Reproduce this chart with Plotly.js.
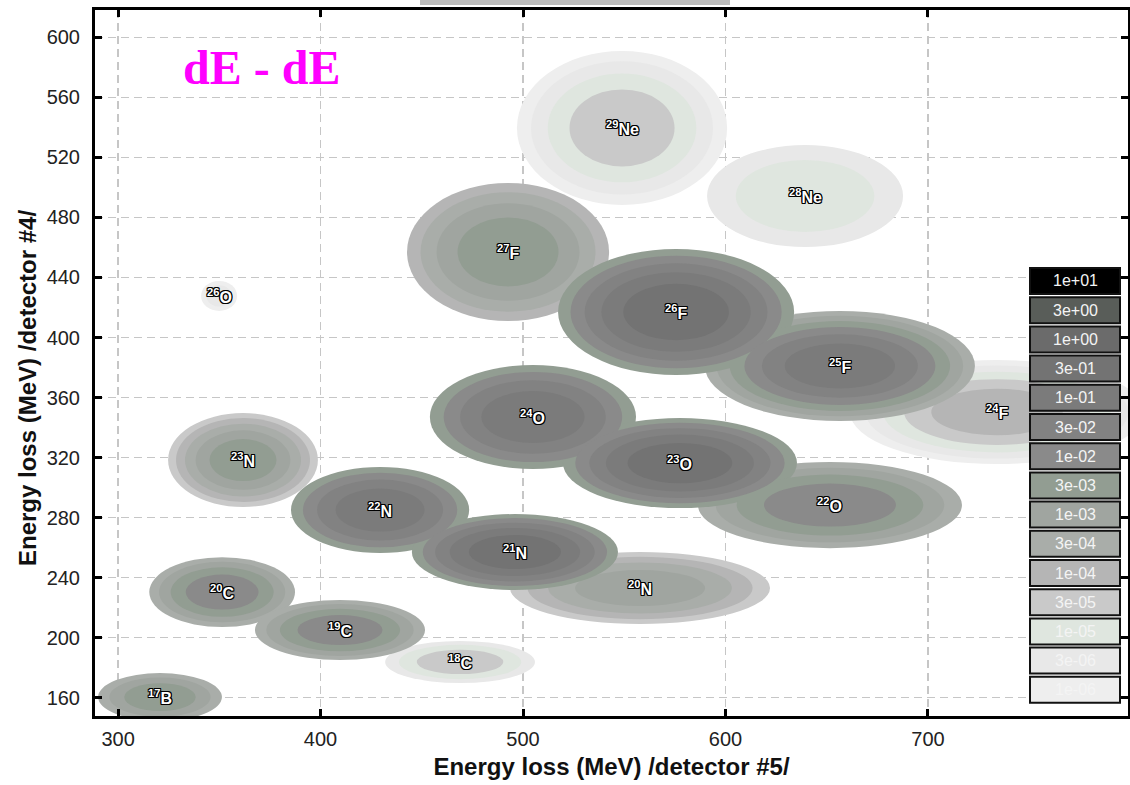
<!DOCTYPE html>
<html>
<head>
<meta charset="utf-8">
<script src="https://cdn.plot.ly/plotly-3.0.1.min.js"></script>
<style>
  html, body { margin: 0; padding: 0; background: #ffffff; }
  #chart { width: 1130px; height: 785px; }
</style>
</head>
<body>
<div id="chart"></div>
<script>
// Isotope groups in the dE - dE identification plane
const isotopeMass    = [29, 28, 27, 26, 25, 24, 26, 24, 23, 22, 23, 22, 21, 20, 20, 19, 18, 17];
const isotopeElement = ['Ne','Ne','F','F','F','F','O','O','O','O','N','N','N','N','C','C','C','B'];
// centroid energy loss, MeV
const dE5 = [548.9, 639.3, 492.6, 575.6, 656.5, 734.1, 349.9, 504.9, 577.5, 651.6, 361.7, 429.4, 496.0, 557.8, 351.4, 409.6, 468.9, 320.7];
const dE4 = [539.7, 494.3, 457.0, 417.0, 381.0, 350.3, 427.7, 347.0, 316.3, 288.3, 318.3, 285.0, 257.0, 233.0, 230.3, 205.0, 183.7, 160.3];
// half-widths of the outermost contour, MeV
const spread5 = [51.9, 48.4, 49.9, 58.3, 66.7, 72.6, 8.9, 50.9, 57.8, 65.2, 37.0, 44.0, 50.9, 64.2, 36.0, 42.0, 37.0, 30.6];
const spread4 = [51.3, 34.0, 46.0, 42.0, 36.7, 34.7, 10.0, 34.7, 30.0, 28.7, 31.3, 28.7, 25.3, 24.0, 23.3, 20.0, 14.0, 16.0];
// lowest and highest contour level reached (index into levelLabels)
const floorLevel = [0, 1, 4, 7, 5, 0, 0, 7, 7, 5, 3, 7, 7, 3, 5, 5, 1, 5];
const peakLevel  = [3, 2, 7, 11, 10, 4, 1, 10, 11, 8, 7, 10, 11, 6, 8, 8, 3, 7];

// contour levels (yield scale), lowest first
const levelLabels = ['1e-06','3e-06','1e-05','3e-05','1e-04','3e-04','1e-03','3e-03',
                     '1e-02','3e-02','1e-01','3e-01','1e+00','3e+00','1e+01'];
const xTicks = [300, 400, 500, 600, 700];
const yTicks = [160, 200, 240, 280, 320, 360, 400, 440, 480, 520, 560, 600];

// palette for the contour levels
const levelColors = ['#eeeeee','#e8e8e8','#dfe6df','#c9c9c9','#b5b5b5','#a9ada9','#a0a5a0','#929d92',
                     '#8a8a8a','#828282','#7b7b7b','#737373','#6b6b6b','#595d59','#000000'];

const xRange = [288.6, 798.8];
const yRange = [147.7, 618.3];

// plot frame in pixels, used to place the level key
const W = 1130, H = 785;
const M = { l: 95, r: 2, t: 10, b: 69 };
const plotW = W - M.l - M.r, plotH = H - M.t - M.b;
const px2paperX = px => (px - M.l) / plotW;
const px2paperY = py => (H - M.b - py) / plotH;

// concentric contour rings for every isotope; drawn by level so the higher level wins
const rings = [];
for (let i = 0; i < dE5.length; i++) {
  const n = peakLevel[i] - floorLevel[i] + 1;
  for (let k = 0; k < n; k++) {
    const f = Math.sqrt((n - k) / n);
    rings.push({
      lvl: floorLevel[i] + k,
      x0: dE5[i] - spread5[i] * f, x1: dE5[i] + spread5[i] * f,
      y0: dE4[i] - spread4[i] * f, y1: dE4[i] + spread4[i] * f
    });
  }
}
rings.sort((a, b) => a.lvl - b.lvl);

const shapes = rings.map(r => ({
  type: 'circle', xref: 'x', yref: 'y', layer: 'between',
  x0: r.x0, x1: r.x1, y0: r.y0, y1: r.y1,
  fillcolor: levelColors[r.lvl], line: { width: 0 }
}));

const annotations = [];

// level key (highest level at the top)
const keyLeft = 1030, keyRight = 1120, keyTop = 268, keyStep = 29.2, keyH = 26;
for (let j = 0; j < levelLabels.length; j++) {
  const lvl = levelLabels.length - 1 - j;
  const top = keyTop + j * keyStep;
  shapes.push({
    type: 'rect', xref: 'paper', yref: 'paper', layer: 'above',
    x0: px2paperX(keyLeft), x1: px2paperX(keyRight),
    y0: px2paperY(top + keyH), y1: px2paperY(top),
    fillcolor: levelColors[lvl], line: { color: '#111111', width: 2 }
  });
  annotations.push({
    xref: 'paper', yref: 'paper', showarrow: false,
    x: px2paperX((keyLeft + keyRight) / 2), y: px2paperY(top + keyH / 2),
    xanchor: 'center', yanchor: 'middle',
    text: levelLabels[lvl],
    font: { family: 'Liberation Sans, Arial, sans-serif', size: 16, color: '#f4f4f4' }
  });
}

// grey bar above the frame
shapes.push({
  type: 'rect', xref: 'paper', yref: 'paper', layer: 'above',
  x0: px2paperX(420), x1: px2paperX(730), y0: px2paperY(5), y1: px2paperY(0),
  fillcolor: '#bdbdbd', line: { width: 0 }
});

// isotope names
for (let i = 0; i < dE5.length; i++) {
  annotations.push({
    xref: 'x', yref: 'y', x: dE5[i], y: dE4[i], showarrow: false,
    xanchor: 'center', yanchor: 'middle',
    text: '<sup>' + isotopeMass[i] + '</sup>' + isotopeElement[i],
    font: {
      family: 'Liberation Sans, Arial, sans-serif', size: 16, color: '#ffffff', weight: 'bold',
      shadow: '1px 0 0 #000, -1px 0 0 #000, 0 1px 0 #000, 0 -1px 0 #000, 1px 1px 0 #000, -1px -1px 0 #000, 1px -1px 0 #000, -1px 1px 0 #000'
    }
  });
}

// plot label
annotations.push({
  xref: 'paper', yref: 'paper', x: px2paperX(261), y: px2paperY(67),
  xanchor: 'center', yanchor: 'middle', showarrow: false,
  text: '<b>dE - dE</b>',
  font: { family: 'Liberation Serif, Times New Roman, serif', size: 48, color: '#ff00ff' }
});

// vertical axis title
annotations.push({
  xref: 'paper', yref: 'paper', x: px2paperX(27), y: px2paperY(388),
  xanchor: 'center', yanchor: 'middle', showarrow: false, textangle: -90,
  text: '<b>Energy loss (MeV) /detector #4/</b>',
  font: { family: 'Liberation Sans, Arial, sans-serif', size: 24, color: '#111111' }
});

const tickFont = { family: 'Liberation Sans, Arial, sans-serif', size: 20, color: '#222222' };
const axisCommon = {
  showline: true, linewidth: 3, linecolor: '#000000', mirror: 'ticks',
  ticks: 'inside', ticklen: 7, tickwidth: 3, tickcolor: '#000000',
  showgrid: true, gridcolor: '#c6c6c6', gridwidth: 1.5, griddash: '8px,5px',
  zeroline: false, automargin: false, fixedrange: true, tickfont: tickFont
};

const layout = {
  width: W, height: H, margin: M,
  paper_bgcolor: '#ffffff', plot_bgcolor: '#ffffff',
  showlegend: false,
  xaxis: Object.assign({}, axisCommon, {
    range: xRange, tickmode: 'array', tickvals: xTicks, ticktext: xTicks.map(String),
    ticklabelstandoff: 3,
    title: {
      text: '<b>Energy loss (MeV) /detector #5/</b>', standoff: 10,
      font: { family: 'Liberation Sans, Arial, sans-serif', size: 24, color: '#111111' }
    }
  }),
  yaxis: Object.assign({}, axisCommon, {
    range: yRange, tickmode: 'array', tickvals: yTicks, ticktext: yTicks.map(String),
    ticklabelstandoff: 8
  }),
  shapes: shapes,
  annotations: annotations
};

// an invisible trace keeps the cartesian axes active
const data = [{
  type: 'scatter', mode: 'markers', x: [dE5[0]], y: [dE4[0]],
  marker: { opacity: 0 }, hoverinfo: 'skip'
}];

Plotly.newPlot('chart', data, layout, { displayModeBar: false, staticPlot: true });
</script>
</body>
</html>
